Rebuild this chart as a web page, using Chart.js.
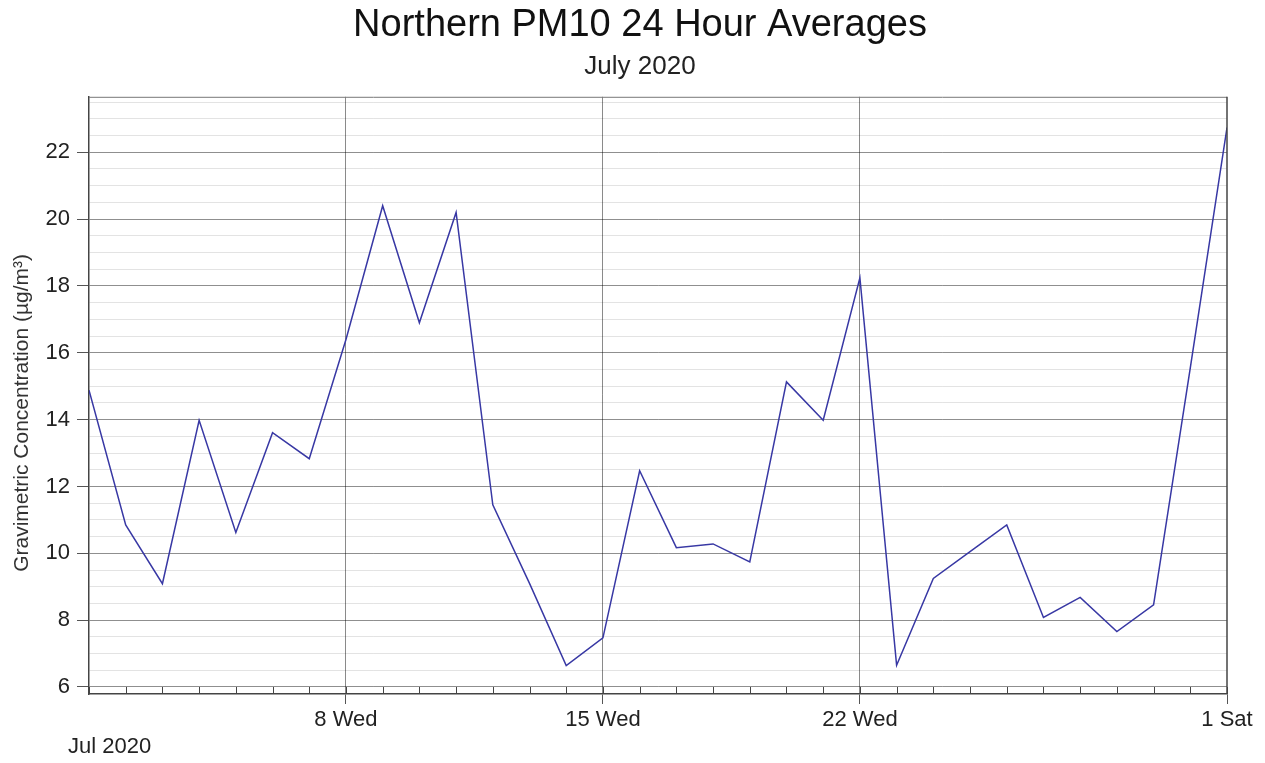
<!DOCTYPE html>
<html><head><meta charset="utf-8">
<script src="https://cdn.jsdelivr.net/npm/chart.js@4.4.0/dist/chart.umd.min.js"></script>
<style>html,body{margin:0;padding:0;background:#fff;}</style>
</head><body>
<canvas id="c" width="1265" height="763"></canvas>
<script>
// ---- data ----
const dayIndex = [0,1,2,3,4,5,6,7,8,9,10,11,12,13,14,15,16,17,18,19,20,21,22,23,24,25,26,27,28,29,30,31];
const dayDates = ['2020-07-01','2020-07-02','2020-07-03','2020-07-04','2020-07-05','2020-07-06','2020-07-07','2020-07-08','2020-07-09','2020-07-10','2020-07-11','2020-07-12','2020-07-13','2020-07-14','2020-07-15','2020-07-16','2020-07-17','2020-07-18','2020-07-19','2020-07-20','2020-07-21','2020-07-22','2020-07-23','2020-07-24','2020-07-25','2020-07-26','2020-07-27','2020-07-28','2020-07-29','2020-07-30','2020-07-31','2020-08-01'];
const pm10 = [14.88,10.85,9.09,13.98,10.62,13.61,12.83,16.4,20.4,16.9,20.2,11.45,9.1,6.64,7.47,12.47,10.17,10.28,9.74,15.13,13.98,18.24,6.65,9.25,10.05,10.85,8.08,8.68,7.66,8.46,15.55,22.74];
const majorDays = [7,14,21,31];
const majorLabels = ['8 Wed','15 Wed','22 Wed','1 Sat'];
const gridDays = [7,14,21];
const monthLabel = 'Jul 2020';
const yTickValues = [6,6.5,7,7.5,8,8.5,9,9.5,10,10.5,11,11.5,12,12.5,13,13.5,14,14.5,15,15.5,16,16.5,17,17.5,18,18.5,19,19.5,20,20.5,21,21.5,22,22.5,23,23.5];
const yLabelValues = [6,8,10,12,14,16,18,20,22];
const titleText = 'Northern PM10 24 Hour Averages';
const subtitleText = 'July 2020';
const yTitle = 'Gravimetric Concentration (µg/m³)';

const FONT = "'Liberation Sans', Arial, sans-serif";

const framePlugin = {
  id: 'frame',
  afterDatasetsDraw(chart) {
    const {ctx, chartArea: a, scales} = chart;
    ctx.save();
    ctx.strokeStyle = '#444';
    ctx.lineWidth = 1;
    dayIndex.forEach(d => {
      const x = Math.round(scales.x.getPixelForValue(d)) + 0.5;
      ctx.beginPath(); ctx.moveTo(x, a.bottom); ctx.lineTo(x, a.bottom - 7); ctx.stroke();
    });
    ctx.strokeStyle = '#777';
    ctx.beginPath(); ctx.moveTo(a.left, a.top + 0.5); ctx.lineTo(a.right, a.top + 0.5); ctx.stroke();
    ctx.strokeStyle = '#444';
    ctx.lineWidth = 1.5;
    ctx.beginPath(); ctx.moveTo(a.right, a.top); ctx.lineTo(a.right, a.bottom); ctx.stroke();
    ctx.fillStyle = '#222';
    ctx.font = '22px ' + FONT;
    ctx.textAlign = 'left';
    ctx.textBaseline = 'middle';
    ctx.fillText(monthLabel, scales.x.getPixelForValue(dayIndex[0]) - 21, 747);
    ctx.restore();
  }
};

new Chart(document.getElementById('c'), {
  type: 'line',
  data: {
    datasets: [{
      label: 'PM10',
      data: dayIndex.map((d, i) => ({x: d, y: pm10[i]})),
      borderColor: '#3838a4',
      borderWidth: 1.5,
      pointRadius: 0,
      tension: 0,
      fill: false
    }]
  },
  options: {
    responsive: false,
    animation: false,
    layout: {padding: {left: 15, right: 0, top: 0, bottom: 0}},
    plugins: {
      legend: {display: false},
      tooltip: {enabled: false},
      title: {display: true, text: titleText, color: '#111', font: {family: FONT, size: 38, weight: 'normal'}, padding: {top: 3, bottom: 3}},
      subtitle: {display: true, text: subtitleText, color: '#222', font: {family: FONT, size: 26, weight: 'normal'}, padding: {top: 0, bottom: 14}}
    },
    scales: {
      x: {
        type: 'linear',
        min: dayIndex[0],
        max: dayIndex[dayIndex.length - 1],
        afterBuildTicks: s => { s.ticks = dayIndex.map(v => ({value: v})); },
        afterFit: s => { s.height = 69; },
        ticks: {
          autoSkip: false, maxRotation: 0, padding: 3,
          color: '#222', font: {family: FONT, size: 22},
          callback: v => { const k = majorDays.indexOf(v); return k >= 0 ? majorLabels[k] : ''; }
        },
        grid: {
          color: c => (c.tick && gridDays.includes(c.tick.value)) ? '#8a8a8a' : 'rgba(0,0,0,0)',
          tickColor: c => (c.tick && majorDays.includes(c.tick.value)) ? '#555' : 'rgba(0,0,0,0)',
          tickLength: 10,
          lineWidth: 1
        },
        border: {display: true, color: '#444', width: 1.5}
      },
      y: {
        type: 'linear',
        min: 5.79,
        max: 23.66,
        afterBuildTicks: s => { s.ticks = yTickValues.map(v => ({value: v})); },
        afterFit: s => { s.width = 74; },
        ticks: {
          autoSkip: false,
          color: '#222', font: {family: FONT, size: 22}, padding: 7,
          callback: v => yLabelValues.includes(v) ? String(v) : ''
        },
        grid: {
          color: c => (c.tick && yLabelValues.includes(c.tick.value)) ? 'rgba(0,0,0,0.44)' : 'rgba(0,0,0,0.11)',
          tickColor: c => (c.tick && yLabelValues.includes(c.tick.value)) ? '#555' : 'rgba(0,0,0,0)',
          tickLength: 12,
          lineWidth: 1
        },
        border: {display: true, color: '#444', width: 1.5},
        title: {display: true, text: yTitle + '      ', color: '#333', font: {family: FONT, size: 21}, padding: {top: -5, bottom: 0}}
      },
      yRight: {
        type: 'linear',
        position: 'right',
        display: true,
        min: 5.79,
        max: 23.66,
        afterFit: s => { s.width = 38; },
        ticks: {display: false},
        grid: {display: false},
        border: {display: false}
      }
    }
  },
  plugins: [framePlugin]
});
</script>
</body></html>
